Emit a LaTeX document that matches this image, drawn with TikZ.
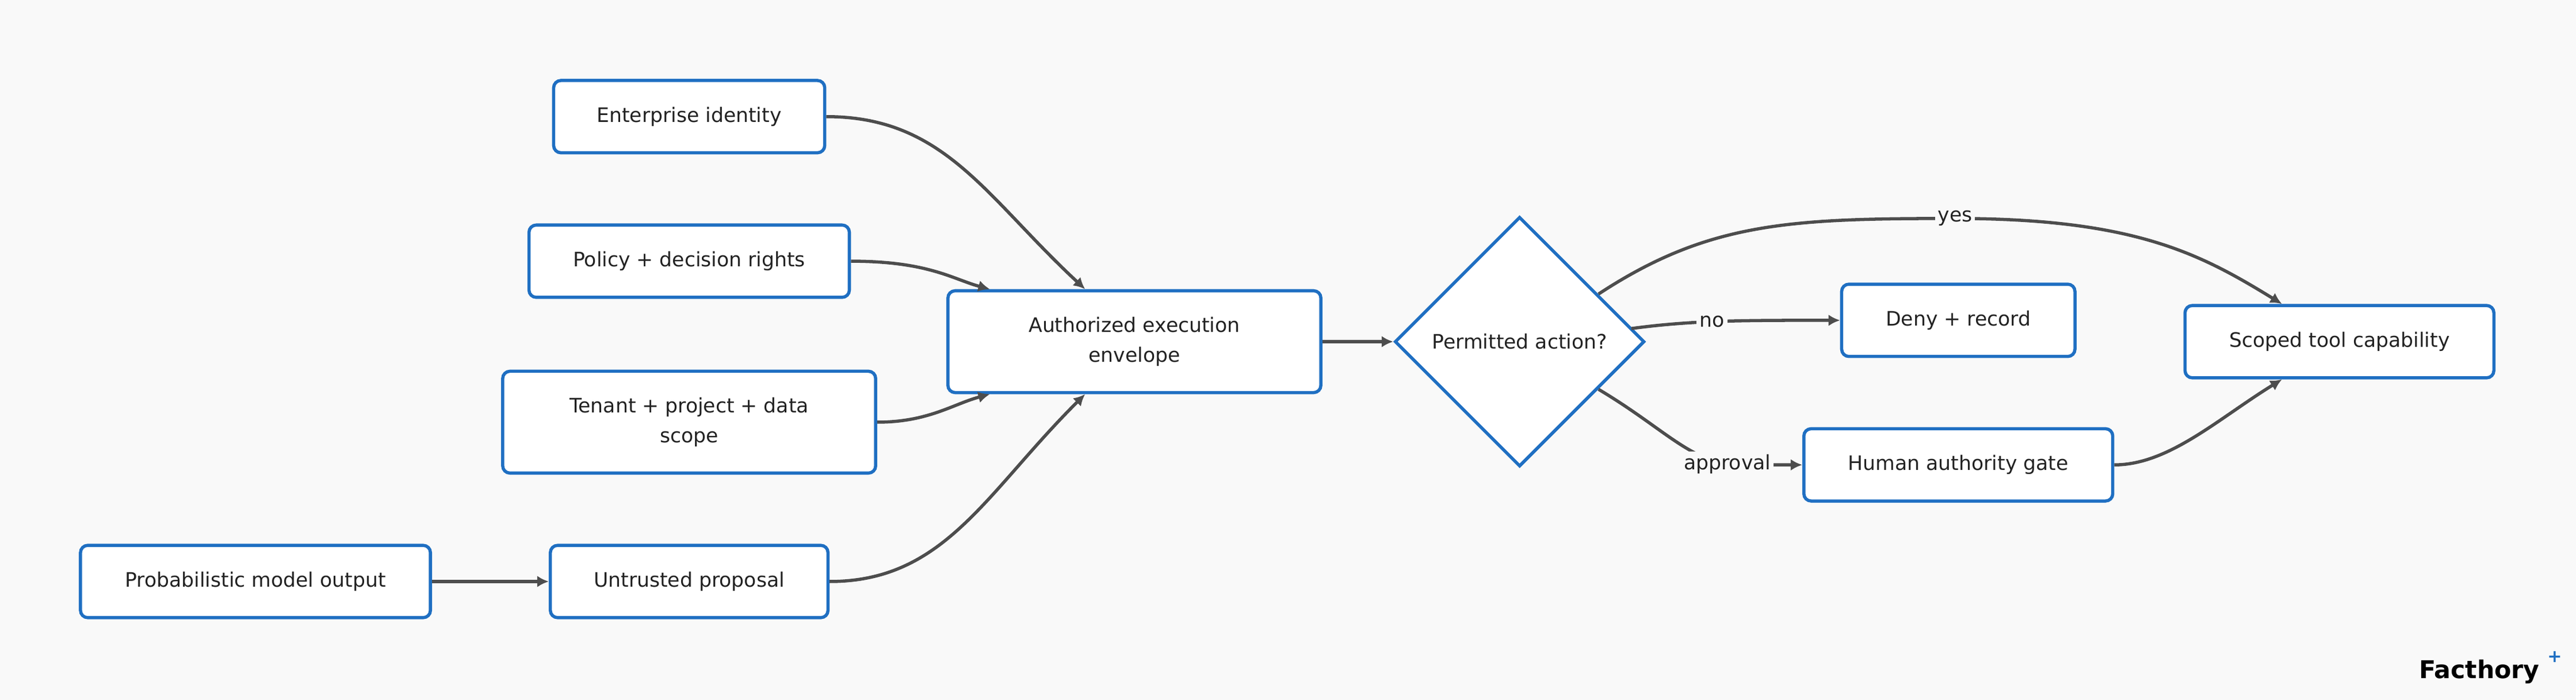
\documentclass[tikz,border=0pt]{standalone}
\usepackage{fontspec}
\setmainfont{DejaVu Sans}
\usetikzlibrary{shapes.geometric,arrows.meta}
\definecolor{boxblue}{HTML}{1F6FC2}
\definecolor{linegray}{HTML}{4D4D4D}
\definecolor{bggray}{HTML}{F9F9F9}
\definecolor{textgray}{HTML}{222222}
\tikzset{
  box/.style={draw=boxblue, line width=1.1pt, fill=white, rounded corners=2.5pt,
    align=center, font=\fontsize{6.9}{10.5}\selectfont, text=textgray, inner sep=0pt},
  flow/.style={draw=linegray, line width=1.1pt, -{Latex[length=4pt,width=4pt]}},
  lbl/.style={fill=bggray, inner sep=1pt, font=\fontsize{6.9}{8}\selectfont, text=textgray}
}
\begin{document}
\begin{tikzpicture}[x=0.02cm,y=-0.02cm]
\fill[bggray] (0,0) rectangle (1568,426);
\useasboundingbox (0,0) rectangle (1568,426);

\node[box, minimum width=165*0.02cm, minimum height=44*0.02cm] (identity) at (419.5,71) {Enterprise identity};
\node[box, minimum width=195*0.02cm, minimum height=44*0.02cm] (policy) at (419.5,159) {Policy + decision rights};
\node[box, minimum width=227*0.02cm, minimum height=62*0.02cm] (tenant) at (419.5,257) {Tenant + project + data\\scope};
\node[box, minimum width=169*0.02cm, minimum height=44*0.02cm] (proposal) at (419.5,354) {Untrusted proposal};
\node[box, minimum width=213*0.02cm, minimum height=44*0.02cm] (model) at (155.5,354) {Probabilistic model output};
\node[box, minimum width=227*0.02cm, minimum height=62*0.02cm] (envelope) at (690.5,208) {Authorized execution\\envelope};
\node[box, diamond, rounded corners=0pt, minimum width=152*0.02cm, minimum height=152*0.02cm] (permit) at (925,208) {Permitted action?};
\node[box, minimum width=142*0.02cm, minimum height=44*0.02cm] (deny) at (1192,195) {Deny + record};
\node[box, minimum width=188*0.02cm, minimum height=44*0.02cm] (gate) at (1192,283) {Human authority gate};
\node[box, minimum width=188*0.02cm, minimum height=44*0.02cm] (scoped) at (1424,208) {Scoped tool capability};

% inputs into the envelope
\draw[flow] (model) -- (proposal);
\draw[flow] (identity.east) .. controls (575,71) and (600,120) .. ([xshift=-30*0.02cm]envelope.north);
\draw[flow] (policy.east) .. controls (565,159) and (580,170) .. ([xshift=-88*0.02cm]envelope.north);
\draw[flow] (tenant.east) .. controls (565,257) and (580,246) .. ([xshift=-88*0.02cm]envelope.south);
\draw[flow] (proposal.east) .. controls (575,354) and (600,300) .. ([xshift=-30*0.02cm]envelope.south);
\draw[flow] (envelope) -- (permit);

% decision outcomes
\draw[flow] ([shift={(48,-29)}]permit.center) .. controls (1040,135) and (1090,133) .. (1190,133)
  node[lbl] {yes} .. controls (1300,133) and (1340,155) .. ([xshift=-35*0.02cm]scoped.north);
\draw[flow] ([shift={(68,-8)}]permit.center) .. controls (1030,195) and (1060,195) .. (deny.west)
  node[lbl, pos=0.45] {no};
\draw[flow] ([shift={(48,29)}]permit.center) .. controls (1015,262) and (1030,283) .. (1060,283)
  node[lbl, pos=0.9] {approval} -- (gate.west);
\draw[flow] (gate.east) .. controls (1320,283) and (1350,255) .. ([xshift=-35*0.02cm]scoped.south);

% logo
\node[anchor=east, font=\fontsize{8.5}{10}\selectfont\bfseries, text=black] (logo) at (1552,409) {Facthory};
\node[font=\fontsize{6}{6}\selectfont\bfseries, text=boxblue] (logomark) at (1555,400) {+};
\end{tikzpicture}
\end{document}
